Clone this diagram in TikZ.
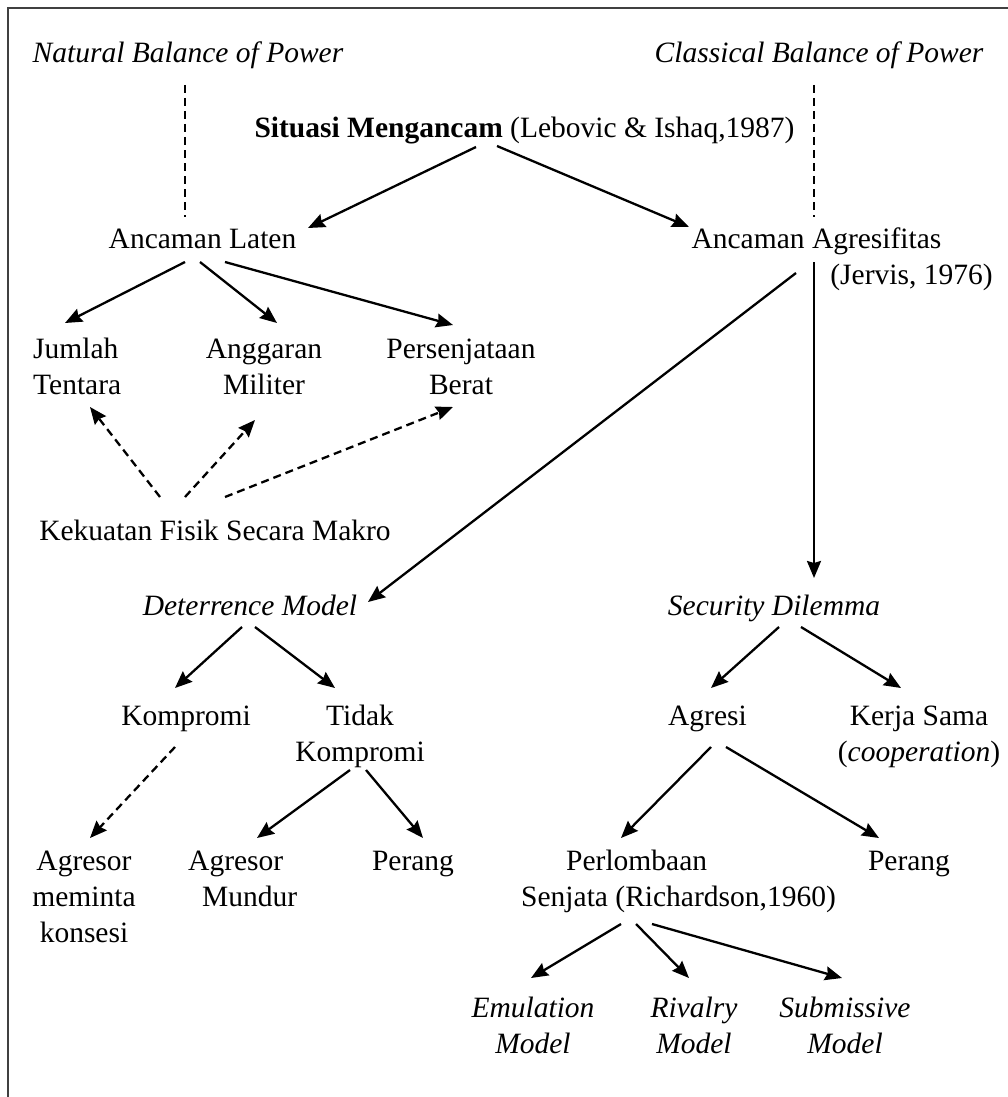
\documentclass[tikz,border=0pt]{standalone}
\usepackage{fontspec}
\setmainfont{Liberation Serif}
\usetikzlibrary{arrows.meta,calc}
\newcommand{\diagfont}{\fontsize{29.5pt}{36pt}\selectfont}
\tikzset{
  lbl/.style={font=\diagfont,inner sep=0pt,anchor=base},
  ital/.style={lbl,font=\diagfont\itshape},
  link/.style={-{Stealth[length=17pt,width=14pt,inset=2pt]},line width=2.3pt},
  hint/.style={link,dash pattern=on 8pt off 5pt},
  guide/.style={line width=1.7pt,dash pattern=on 8pt off 5pt},
  frame/.style={line width=2.6pt,draw=black!75}
}
\begin{document}
\begin{tikzpicture}[x=1pt,y=-1pt]
  \useasboundingbox (0,0) rectangle (1008,1097);
  \coordinate (fbl) at (8,1097);
  \coordinate (ftl) at (8,8);
  \coordinate (ftr) at (1008,8);
  \draw[frame] (fbl) -- (ftl) -- (ftr);

  % top level
  \node[ital] (natural) at (188,63) {Natural Balance of Power};
  \node[ital] (classical) at (819,63) {Classical Balance of Power};
  \node[lbl] (situasi) at (524.5,137) {\textbf{Situasi Mengancam} (Lebovic \& Ishaq,1987)};
  \node[lbl] (laten) at (202.5,248) {Ancaman Laten};
  \node[lbl] (agresif) at (816.5,248) {Ancaman Agresifitas};
  \node[lbl] (jervis) at (911.5,284) {(Jervis, 1976)};

  % ancaman laten (multi-line nodes sit on their last line)
  \node[lbl,anchor=base west,align=left] (jumlah) at (33,394) {Jumlah\\Tentara};
  \node[lbl,align=center] (anggaran) at (264,394) {Anggaran\\Militer};
  \node[lbl,align=center] (persen) at (461,394) {Persenjataan\\Berat};
  \node[lbl] (kekuatan) at (215,540) {Kekuatan Fisik Secara Makro};

  % models
  \node[ital] (deterrence) at (250,615) {Deterrence Model};
  \node[ital] (security) at (774,615) {Security Dilemma};
  \node[lbl] (kompromi) at (186,725) {Kompromi};
  \node[lbl,align=center] (tidak) at (360,761) {Tidak\\Kompromi};
  \node[lbl] (agresi) at (707.5,725) {Agresi};
  \node[lbl,align=center] (kerja) at (919,761) {Kerja Sama\\(\textit{cooperation})};

  % outcomes
  \node[lbl,align=center] (konsesi) at (84,942) {Agresor\\meminta\\konsesi};
  \node[lbl,anchor=base west,align=left] (mundur) at (188,906) {Agresor\\\hspace*{14pt}Mundur};
  \node[lbl] (perangA) at (413,870) {Perang};
  \node[lbl,anchor=base west,align=left] (lomba) at (521,906) {\hspace*{45pt}Perlombaan\\Senjata (Richardson,1960)};
  \node[lbl] (perangB) at (909,870) {Perang};
  \node[ital,align=center] (emulation) at (533,1053) {Emulation\\Model};
  \node[ital,align=center] (rivalry) at (694,1053) {Rivalry\\Model};
  \node[ital,align=center] (submissive) at (845,1053) {Submissive\\Model};

  % connectors
  \draw[guide] ([shift={(-3,22)}]natural.base) -- ([shift={(-17.5,-31)}]laten.base);
  \draw[guide] ([shift={(-5,22)}]classical.base) -- ([shift={(-2.5,-31)}]agresif.base);
  \draw[link] ([shift={(-48.5,10)}]situasi.base) -- ([shift={(105.5,-20)}]laten.base);
  \draw[link] ([shift={(-27.5,9)}]situasi.base) -- ([shift={(-127.5,-21)}]agresif.base);
  \draw[link] ([shift={(-17.5,14)}]laten.base) -- ([shift={(32,-71)}]jumlah.base west);
  \draw[link] ([shift={(-2.5,14)}]laten.base) -- ([shift={(13,-71)}]anggaran.base);
  \draw[link] ([shift={(22.5,14)}]laten.base) -- ([shift={(-8,-69)}]persen.base);
  \draw[hint] ([shift={(-55,-43)}]kekuatan.base) -- ([shift={(57,13)}]jumlah.base west);
  \draw[hint] ([shift={(-30,-43)}]kekuatan.base) -- ([shift={(-9,26)}]anggaran.base);
  \draw[hint] ([shift={(10,-43)}]kekuatan.base) -- ([shift={(-8,13)}]persen.base);
  \draw[link] ([shift={(-20.5,25)}]agresif.base) -- ([shift={(118,-13)}]deterrence.base);
  \draw[link] ([shift={(-2.5,14)}]agresif.base) -- ([shift={(40,-37)}]security.base);
  \draw[link] ([shift={(-8,12)}]deterrence.base) -- ([shift={(-11,-37)}]kompromi.base);
  \draw[link] ([shift={(5,12)}]deterrence.base) -- ([shift={(-25,-73)}]tidak.base);
  \draw[hint] ([shift={(-11,22)}]kompromi.base) -- ([shift={(6,-104)}]konsesi.base);
  \draw[link] ([shift={(-10,9)}]tidak.base) -- ([shift={(69,-68)}]mundur.base west);
  \draw[link] ([shift={(6,9)}]tidak.base) -- ([shift={(10,-32)}]perangA.base);
  \draw[link] ([shift={(5,12)}]security.base) -- ([shift={(3.5,-37)}]agresi.base);
  \draw[link] ([shift={(27,12)}]security.base) -- ([shift={(-18,-73)}]kerja.base);
  \draw[link] ([shift={(3.5,22)}]agresi.base) -- ([shift={(100,-68)}]lomba.base west);
  \draw[link] ([shift={(18.5,22)}]agresi.base) -- ([shift={(-30,-32)}]perangB.base);
  \draw[link] ([shift={(100,18)}]lomba.base west) -- ([shift={(-2,-75)}]emulation.base);
  \draw[link] ([shift={(115,18)}]lomba.base west) -- ([shift={(-5,-75)}]rivalry.base);
  \draw[link] ([shift={(131,18)}]lomba.base west) -- ([shift={(-3,-75)}]submissive.base);
\end{tikzpicture}
\end{document}
